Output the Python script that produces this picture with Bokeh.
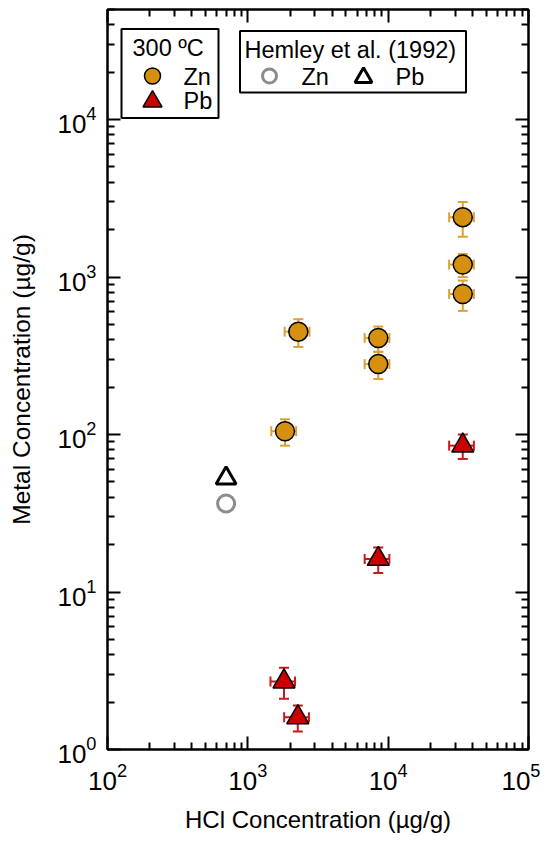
import numpy as np
from bokeh.plotting import figure
from bokeh.models import (ColumnDataSource, Whisker, TeeHead, LogAxis, FixedTicker,
                          CustomJSTickFormatter, Range1d, LinearScale)
from bokeh.core.properties import value
from bokeh.embed import file_html
from bokeh.resources import INLINE

# ---------------- data ----------------
zn_hcl = [1840, 2290, 8500, 8500, 34000, 34000, 34000]
zn_hcl_err = [370, 460, 1700, 1700, 6800, 6800, 6800]
zn_metal = [105, 450, 410, 280, 2400, 1200, 780]
zn_metal_err = [20, 90, 75, 55, 600, 200, 170]

pb_hcl = [1810, 2270, 8500, 34000]
pb_hcl_err = [360, 455, 1700, 6800]
pb_metal = [2.7, 1.6, 16.2, 85]
pb_metal_err = [0.6, 0.3, 3.0, 15]

hemley_hcl = [700]
hemley_zn = [36.5]
hemley_pb = [52.7]

x_major = [1e2, 1e3, 1e4, 1e5]
y_major = [1e0, 1e1, 1e2, 1e3, 1e4]

FONT = "Liberation Sans"
ZN_FILL = "#D69010"
ZN_BAR = "#DBA038"
PB_FILL = "#CC0000"
PB_BAR = "#C81818"

FW, FH = 421, 740

def minors(majors):
    out = []
    for m in majors[:-1]:
        out += [m * k for k in range(2, 10)]
    return out

x_ticker = FixedTicker(ticks=x_major, minor_ticks=minors(x_major))
y_ticker = FixedTicker(ticks=y_major, minor_ticks=minors(y_major + [1e5]))

p = figure(x_axis_type="log", y_axis_type="log",
           x_range=(1e2, 1e5), y_range=(1, 5e4),
           frame_width=FW, frame_height=FH,
           output_backend="svg", toolbar_location=None,
           min_border_left=107, min_border_right=12,
           min_border_top=9, min_border_bottom=90)
p.background_fill_color = "white"
p.border_fill_color = "white"
p.xgrid.visible = False
p.ygrid.visible = False
p.outline_line_color = "black"
p.outline_line_width = 2

def style_axis(ax):
    ax.axis_line_width = 2
    ax.axis_line_color = "black"
    ax.major_tick_in = 13
    ax.major_tick_out = 0
    ax.minor_tick_in = 7
    ax.minor_tick_out = 0
    ax.major_tick_line_width = 2
    ax.minor_tick_line_width = 2
    ax.major_tick_line_color = "black"
    ax.minor_tick_line_color = "black"
    ax.major_label_text_font = FONT
    ax.major_label_text_font_size = "26px"
    ax.major_label_text_color = "black"
    ax.axis_label_text_font = FONT
    ax.axis_label_text_font_size = "24px"
    ax.axis_label_text_font_style = "normal"
    ax.axis_label_text_color = "black"

xa = p.xaxis[0]
ya = p.yaxis[0]
xa.ticker = x_ticker
ya.ticker = y_ticker
style_axis(xa)
style_axis(ya)
xa.axis_label = "HCl Concentration (µg/g)"
ya.axis_label = "Metal Concentration (µg/g)"
ya.axis_label_text_font_size = "24.5px"
xa.major_label_standoff = 13
xa.axis_label_standoff = 13
ya.major_label_standoff = 11
ya.axis_label_standoff = 19

blank = CustomJSTickFormatter(code="return ''")
top = LogAxis(ticker=x_ticker, formatter=blank)
right = LogAxis(ticker=y_ticker, formatter=blank)
for ax in (top, right):
    style_axis(ax)
    ax.major_label_standoff = 0
    ax.major_label_text_font_size = "1px"
p.add_layout(top, "above")
p.add_layout(right, "right")

# ---------------- error bars ----------------
def add_bars(xs, xe, ys, ye, color):
    xs, xe, ys, ye = map(np.asarray, (xs, xe, ys, ye))
    src = ColumnDataSource(dict(x=xs, y=ys, ylo=ys - ye, yhi=ys + ye,
                                xlo=xs - xe, xhi=xs + xe))
    for base, lo, hi, dim in (("x", "ylo", "yhi", "height"),
                              ("y", "xlo", "xhi", "width")):
        w = Whisker(source=src, base=base, lower=lo, upper=hi, dimension=dim,
                    line_color=color, line_width=2, level="underlay",
                    upper_head=TeeHead(size=10, line_color=color, line_width=2),
                    lower_head=TeeHead(size=10, line_color=color, line_width=2))
        p.add_layout(w)

add_bars(zn_hcl, zn_hcl_err, zn_metal, zn_metal_err, ZN_BAR)
add_bars(pb_hcl, pb_hcl_err, pb_metal, pb_metal_err, PB_BAR)

# ---------------- data markers ----------------
p.scatter(zn_hcl, zn_metal, marker="circle", size=19, fill_color=ZN_FILL,
          line_color="black", line_width=1.5)
p.scatter(pb_hcl, pb_metal, marker="triangle", size=22, fill_color=PB_FILL,
          line_color="black", line_width=1.5)
p.scatter(hemley_hcl, hemley_zn, marker="circle", size=17, fill_color=None,
          line_color="#8C8C8C", line_width=3)
p.scatter(hemley_hcl, hemley_pb, marker="triangle", size=20, fill_color=None,
          line_color="black", line_width=3)

# ---------------- legends (frame pixel coordinates) ----------------
p.extra_x_ranges = {"px": Range1d(0, FW)}
p.extra_y_ranges = {"px": Range1d(FH, 0)}
p.extra_x_scales = {"px": LinearScale()}
p.extra_y_scales = {"px": LinearScale()}
PX = dict(x_range_name="px", y_range_name="px")

def txt(x, y, s):
    p.text(x=[x], y=[y], text=[s], text_font=value(FONT), text_font_size="23.5px",
           text_baseline="middle", text_align="left", text_color="black", **PX)

p.quad(left=[14], right=[111], top=[19.5], bottom=[108.5], fill_color="white",
       line_color="black", line_width=2, **PX)
txt(25, 38.5, "300 ºC")
p.scatter(x=[45], y=[66.5], marker="circle", size=16, fill_color=ZN_FILL,
          line_color="black", line_width=1.5, **PX)
txt(76, 67, "Zn")
p.scatter(x=[45], y=[92], marker="triangle", size=19, fill_color=PB_FILL,
          line_color="black", line_width=1.5, **PX)
txt(76, 91.5, "Pb")

p.quad(left=[132.5], right=[358.5], top=[21.5], bottom=[83], fill_color="white",
       line_color="black", line_width=2, **PX)
txt(137, 40, "Hemley et al. (1992)")
p.scatter(x=[162], y=[66.5], marker="circle", size=14, fill_color=None,
          line_color="#8C8C8C", line_width=3, **PX)
txt(194, 67, "Zn")
p.scatter(x=[256], y=[68], marker="triangle", size=17, fill_color=None,
          line_color="black", line_width=3, **PX)
txt(288, 67, "Pb")

open("out.html", "w").write(file_html(p, INLINE))
